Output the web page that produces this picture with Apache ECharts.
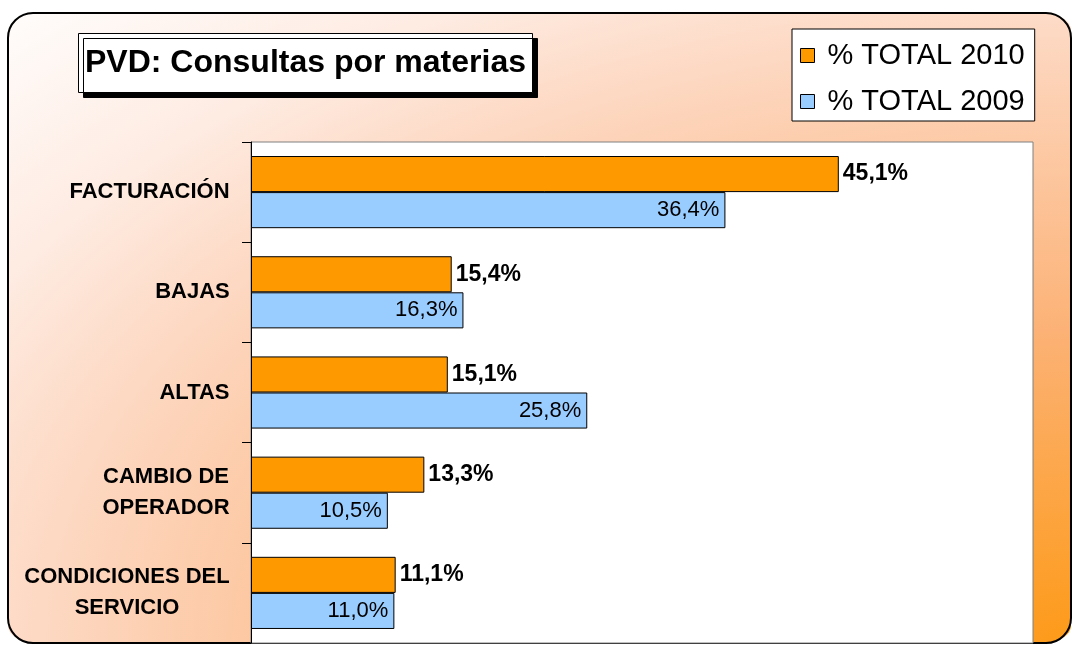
<!DOCTYPE html>
<html>
<head>
<meta charset="utf-8">
<script src="https://cdn.jsdelivr.net/npm/echarts@6/dist/echarts.min.js"></script>
<style>
html,body{margin:0;padding:0;background:#fff;}
#chart{width:1072px;height:645px;}
</style>
</head>
<body>
<div id="chart"></div>
<script>
const titleText = 'PVD: Consultas por materias';
const categories = ['FACTURACIÓN', 'BAJAS', 'ALTAS', 'CAMBIO DE\nOPERADOR', 'CONDICIONES DEL\nSERVICIO'];
const seriesNames = ['% TOTAL 2010', '% TOTAL 2009'];
const total2010 = [45.1, 15.4, 15.1, 13.3, 11.1];
const total2009 = [36.4, 16.3, 25.8, 10.5, 11.0];

const FONT = '"Liberation Sans", Arial, sans-serif';
const catFontSize = 22;

// measure widest line for centering multi-line category labels
const mctx = document.createElement('canvas').getContext('2d');
mctx.font = 'bold ' + catFontSize + 'px ' + FONT;
const rich = {};
const keyOf = {};
categories.forEach((c, i) => {
  const lines = c.split('\n');
  const w = Math.max(...lines.map(l => mctx.measureText(l).width));
  const k = 'c' + i;
  keyOf[c] = k;
  rich[k] = { width: Math.ceil(w), align: 'center', fontSize: catFontSize, fontWeight: 'bold', fontFamily: FONT, color: '#000', lineHeight: 31 };
});

const fmt = v => v.toFixed(1).replace('.', ',') + '%';

const chart = echarts.init(document.getElementById('chart'), null, { renderer: 'canvas' });
const W = 1063, H = 630, S = W / H;

chart.setOption({
  backgroundColor: '#ffffff',
  animation: false,
  graphic: [
    {
      type: 'rect', x: 8, y: 13, scaleX: S, scaleY: 1, z: -20, silent: true,
      shape: { x: 0, y: 0, width: H, height: H, r: 17 },
      style: {
        fill: {
          type: 'radial', x: 1, y: 1, r: 1.42,
          colorStops: [
            { offset: 0, color: '#fd9a18' },
            { offset: 0.35, color: '#fcb276' },
            { offset: 0.68, color: '#fdd8c2' },
            { offset: 0.82, color: '#feece3' },
            { offset: 1, color: '#fffdfc' }
          ]
        }
      }
    },
    {
      type: 'rect', z: -19, silent: true,
      shape: { x: 8, y: 13, width: W, height: H, r: 25 },
      style: { fill: 'none', stroke: '#000', lineWidth: 2 }
    }
  ],
  title: {
    text: titleText,
    left: 78, top: 33,
    padding: [12, 7, 12, 7],
    backgroundColor: '#fff',
    borderColor: '#000',
    borderWidth: 1,
    shadowColor: '#000',
    shadowOffsetX: 5,
    shadowOffsetY: 5,
    shadowBlur: 0,
    textStyle: { fontFamily: FONT, fontSize: 32, fontWeight: 'bold', color: '#000', lineHeight: 36 }
  },
  legend: {
    orient: 'vertical',
    left: 792, top: 29,
    padding: [12, 10, 5, 8],
    backgroundColor: '#fff',
    borderColor: '#000',
    borderWidth: 1,
    itemWidth: 14, itemHeight: 14,
    itemGap: 17,
    itemTextGap: 14,
    icon: 'rect',
    itemStyle: { borderColor: '#000', borderWidth: 1 },
    textStyle: { fontFamily: FONT, fontSize: 29, color: '#000', lineHeight: 28, padding: [0, 0, 0, 8] },
    data: seriesNames
  },
  grid: {
    left: 251, right: 39, top: 142, bottom: 2,
    show: true, backgroundColor: '#fff', borderColor: '#808080', borderWidth: 1,
    containLabel: false
  },
  xAxis: {
    type: 'value', min: 0, max: 60, show: false,
    splitLine: { show: false }
  },
  yAxis: {
    type: 'category',
    inverse: true,
    data: categories,
    axisLine: { show: true, lineStyle: { color: '#000', width: 1 } },
    axisTick: { show: true, length: 9, lineStyle: { color: '#000' } },
    axisLabel: {
      margin: 21,
      align: 'right',
      formatter: val => val.split('\n').map(l => '{' + keyOf[val] + '|' + l + '}').join('\n'),
      rich: rich
    },
    splitLine: { show: false }
  },
  series: [
    {
      name: seriesNames[0], type: 'bar', data: total2010,
      barGap: '0%', barCategoryGap: '28%',
      itemStyle: { color: '#ff9900', borderColor: '#000', borderWidth: 1 },
      label: {
        show: true, position: 'right', distance: 4,
        formatter: p => fmt(p.value),
        fontFamily: FONT, fontSize: 23, fontWeight: 'bold', color: '#000'
      }
    },
    {
      name: seriesNames[1], type: 'bar', data: total2009,
      barGap: '0%', barCategoryGap: '28%',
      itemStyle: { color: '#99ccff', borderColor: '#000', borderWidth: 1 },
      label: {
        show: true, position: 'insideRight', distance: 6,
        formatter: p => fmt(p.value),
        fontFamily: FONT, fontSize: 22, fontWeight: 'normal', color: '#000'
      }
    }
  ]
});
</script>
</body>
</html>
